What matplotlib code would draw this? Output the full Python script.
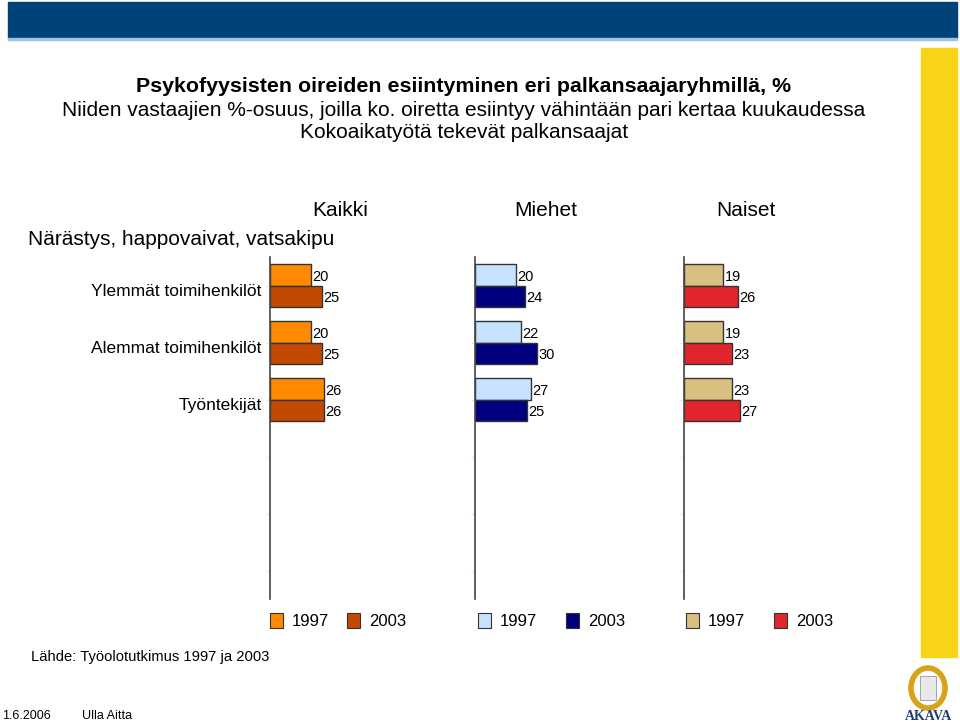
import matplotlib.pyplot as plt
import matplotlib.patches as mpatches
import numpy as np

plt.rcParams['font.family'] = ['Liberation Sans', 'DejaVu Sans']

groups = ["Ylemmät toimihenkilöt", "Alemmat toimihenkilöt", "Työntekijät"]
panels = ["Kaikki", "Miehet", "Naiset"]
kaikki_1997 = [20, 20, 26]
kaikki_2003 = [25, 25, 26]
miehet_1997 = [20, 22, 27]
miehet_2003 = [24, 30, 25]
naiset_1997 = [19, 19, 23]
naiset_2003 = [26, 23, 27]
years = ["1997", "2003"]

colors = [("#FF8A00", "#C24A00"), ("#C6E2FF", "#000080"), ("#D9BF80", "#E0262C")]
data = [(kaikki_1997, kaikki_2003), (miehet_1997, miehet_2003), (naiset_1997, naiset_2003)]

W, H = 960, 726
fig = plt.figure(figsize=(W / 100, H / 100), dpi=100)


def fx(px):
    return px / W


def fy(py):
    return 1 - py / H


# top banner and side stripe
fig.patches.append(mpatches.Rectangle((fx(8), fy(38)), fx(949), 36 / H, transform=fig.transFigure,
                                      color="#00427A", zorder=0))
fig.patches.append(mpatches.Rectangle((fx(8), fy(40)), fx(949), 1.5 / H, transform=fig.transFigure,
                                      color="#9FC3E0", zorder=0))
fig.patches.append(mpatches.Rectangle((fx(921), fy(657)), fx(36), 609 / H, transform=fig.transFigure,
                                      color="#F7D417", zorder=0))

# titles
fig.text(fx(464), fy(86), "Psykofyysisten oireiden esiintyminen eri palkansaajaryhmillä, %",
         ha="center", va="center", fontsize=15.4, fontweight="bold")
fig.text(fx(464), fy(110), "Niiden vastaajien %-osuus, joilla ko. oiretta esiintyy vähintään pari kertaa kuukaudessa",
         ha="center", va="center", fontsize=15)
fig.text(fx(464), fy(132), "Kokoaikatyötä tekevät palkansaajat", ha="center", va="center", fontsize=15)
fig.text(fx(28), fy(239), "Närästys, happovaivat, vatsakipu", ha="left", va="center", fontsize=15)

lefts = [270, 475, 684]
heads = [340, 546, 746]
ncat = 6
y = np.arange(len(groups))
h = 0.375

for k in range(3):
    ax = fig.add_axes([fx(lefts[k]), fy(599), 207 / W, 342 / H])
    ax.patch.set_alpha(0)
    v1, v2 = data[k]
    c1, c2 = colors[k]
    ax.barh(y - h / 2, v1, height=h, color=c1, edgecolor="#333333", linewidth=1)
    ax.barh(y + h / 2, v2, height=h, color=c2, edgecolor="#333333", linewidth=1)
    for i in range(len(groups)):
        ax.text(v1[i] + 0.6, y[i] - h / 2 + 0.03, str(v1[i]), va="center", ha="left", fontsize=10.5)
        ax.text(v2[i] + 0.6, y[i] + h / 2 + 0.03, str(v2[i]), va="center", ha="left", fontsize=10.5)
    ax.set_xlim(0, 100)
    ax.set_ylim(ncat - 0.5, -0.5)
    for s in ["top", "right", "bottom"]:
        ax.spines[s].set_visible(False)
    ax.spines["left"].set_color("#444444")
    ax.spines["left"].set_linewidth(1.2)
    ax.set_xticks([])
    ax.set_yticks(np.arange(ncat))
    ax.tick_params(axis="y", length=3, color="#e6e6e6", labelleft=False)
    fig.text(fx(heads[k]), fy(211), panels[k], ha="center", va="center", fontsize=15)
    if k == 0:
        for i, g in enumerate(groups):
            ax.text(-4, y[i] + 0.1, g, ha="right", va="center", fontsize=12.5)

# legend
leg_x = [270, 347, 478, 566, 686, 774]
n = 0
for k in range(3):
    for j in range(2):
        px = leg_x[n]
        fig.patches.append(mpatches.Rectangle((fx(px), fy(628)), 13 / W, 15 / H, transform=fig.transFigure,
                                              facecolor=colors[k][j], edgecolor="#333333", linewidth=0.8))
        fig.text(fx(px + 22), fy(621), years[j], ha="left", va="center", fontsize=12)
        n += 1

fig.text(fx(31), fy(657), "Lähde: Työolotutkimus 1997 ja 2003", ha="left", va="center", fontsize=10.6)
fig.text(fx(2), fy(716), "1.6.2006", ha="left", va="center", fontsize=9)
fig.text(fx(82), fy(716), "Ulla Aitta", ha="left", va="center", fontsize=9)

# logo
fig.patches.append(mpatches.Ellipse((fx(928), fy(688)), 34 / W, 40 / H, transform=fig.transFigure,
                                    facecolor="none", edgecolor="#D9A21B", linewidth=4))
fig.patches.append(mpatches.Rectangle((fx(920), fy(700)), 16 / W, 24 / H, transform=fig.transFigure,
                                      facecolor="#E8E8E8", edgecolor="#999999", linewidth=0.6))
fig.text(fx(928), fy(716), "AKAVA", ha="center", va="center", fontsize=10, fontweight="bold",
         family="Liberation Serif", color="#1F3F73")

fig.savefig("out.png", dpi=100)
